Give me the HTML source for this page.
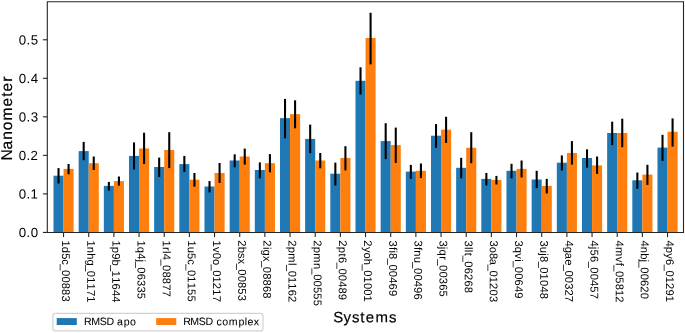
<!DOCTYPE html><html><head><meta charset="utf-8"><style>html,body{margin:0;padding:0;background:#fff;overflow:hidden;width:685px;height:333px}svg{display:block;position:absolute;left:0;top:0}text{font-family:"Liberation Sans",sans-serif;fill:#000;font-kerning:none;font-variant-ligatures:none;white-space:pre;text-rendering:geometricPrecision}#t{will-change:transform}</style></head><body>
<svg width="685" height="333" viewBox="0 0 685 333">
<rect x="0" y="0" width="685" height="333" fill="#fff"/>
<rect x="53.48" y="175.70" width="10.07" height="56.70" fill="#1f77b4"/>
<rect x="63.55" y="168.90" width="10.07" height="63.50" fill="#ff7f0e"/>
<rect x="78.65" y="151.10" width="10.07" height="81.30" fill="#1f77b4"/>
<rect x="88.72" y="163.20" width="10.07" height="69.20" fill="#ff7f0e"/>
<rect x="103.82" y="185.90" width="10.07" height="46.50" fill="#1f77b4"/>
<rect x="113.88" y="181.10" width="10.07" height="51.30" fill="#ff7f0e"/>
<rect x="128.98" y="155.90" width="10.07" height="76.50" fill="#1f77b4"/>
<rect x="139.05" y="148.40" width="10.07" height="84.00" fill="#ff7f0e"/>
<rect x="154.15" y="167.00" width="10.07" height="65.40" fill="#1f77b4"/>
<rect x="164.22" y="150.00" width="10.07" height="82.40" fill="#ff7f0e"/>
<rect x="179.32" y="164.10" width="10.07" height="68.30" fill="#1f77b4"/>
<rect x="189.38" y="179.70" width="10.07" height="52.70" fill="#ff7f0e"/>
<rect x="204.48" y="186.50" width="10.07" height="45.90" fill="#1f77b4"/>
<rect x="214.55" y="173.00" width="10.07" height="59.40" fill="#ff7f0e"/>
<rect x="229.65" y="160.50" width="10.07" height="71.90" fill="#1f77b4"/>
<rect x="239.72" y="156.50" width="10.07" height="75.90" fill="#ff7f0e"/>
<rect x="254.82" y="170.00" width="10.07" height="62.40" fill="#1f77b4"/>
<rect x="264.88" y="163.20" width="10.07" height="69.20" fill="#ff7f0e"/>
<rect x="279.98" y="118.10" width="10.07" height="114.30" fill="#1f77b4"/>
<rect x="290.05" y="114.10" width="10.07" height="118.30" fill="#ff7f0e"/>
<rect x="305.15" y="138.90" width="10.07" height="93.50" fill="#1f77b4"/>
<rect x="315.22" y="160.50" width="10.07" height="71.90" fill="#ff7f0e"/>
<rect x="330.32" y="173.70" width="10.07" height="58.70" fill="#1f77b4"/>
<rect x="340.38" y="157.90" width="10.07" height="74.50" fill="#ff7f0e"/>
<rect x="355.48" y="80.80" width="10.07" height="151.60" fill="#1f77b4"/>
<rect x="365.55" y="38.00" width="10.07" height="194.40" fill="#ff7f0e"/>
<rect x="380.65" y="141.10" width="10.07" height="91.30" fill="#1f77b4"/>
<rect x="390.72" y="145.10" width="10.07" height="87.30" fill="#ff7f0e"/>
<rect x="405.82" y="171.60" width="10.07" height="60.80" fill="#1f77b4"/>
<rect x="415.88" y="170.80" width="10.07" height="61.60" fill="#ff7f0e"/>
<rect x="430.98" y="135.70" width="10.07" height="96.70" fill="#1f77b4"/>
<rect x="441.05" y="129.70" width="10.07" height="102.70" fill="#ff7f0e"/>
<rect x="456.15" y="167.80" width="10.07" height="64.60" fill="#1f77b4"/>
<rect x="466.22" y="147.80" width="10.07" height="84.60" fill="#ff7f0e"/>
<rect x="481.32" y="178.90" width="10.07" height="53.50" fill="#1f77b4"/>
<rect x="491.38" y="180.00" width="10.07" height="52.40" fill="#ff7f0e"/>
<rect x="506.48" y="170.80" width="10.07" height="61.60" fill="#1f77b4"/>
<rect x="516.55" y="168.90" width="10.07" height="63.50" fill="#ff7f0e"/>
<rect x="531.65" y="179.50" width="10.07" height="52.90" fill="#1f77b4"/>
<rect x="541.72" y="185.90" width="10.07" height="46.50" fill="#ff7f0e"/>
<rect x="556.82" y="162.70" width="10.07" height="69.70" fill="#1f77b4"/>
<rect x="566.88" y="153.00" width="10.07" height="79.40" fill="#ff7f0e"/>
<rect x="581.98" y="158.00" width="10.07" height="74.40" fill="#1f77b4"/>
<rect x="592.05" y="165.40" width="10.07" height="67.00" fill="#ff7f0e"/>
<rect x="607.15" y="133.00" width="10.07" height="99.40" fill="#1f77b4"/>
<rect x="617.22" y="133.00" width="10.07" height="99.40" fill="#ff7f0e"/>
<rect x="632.32" y="180.30" width="10.07" height="52.10" fill="#1f77b4"/>
<rect x="642.38" y="174.60" width="10.07" height="57.80" fill="#ff7f0e"/>
<rect x="657.48" y="147.60" width="10.07" height="84.80" fill="#1f77b4"/>
<rect x="667.55" y="131.80" width="10.07" height="100.60" fill="#ff7f0e"/>
<line x1="58.52" y1="168.10" x2="58.52" y2="183.50" stroke="#000" stroke-width="2.08"/>
<line x1="68.58" y1="164.00" x2="68.58" y2="174.30" stroke="#000" stroke-width="2.08"/>
<line x1="83.68" y1="141.90" x2="83.68" y2="160.20" stroke="#000" stroke-width="2.08"/>
<line x1="93.75" y1="156.50" x2="93.75" y2="170.00" stroke="#000" stroke-width="2.08"/>
<line x1="108.85" y1="181.90" x2="108.85" y2="190.50" stroke="#000" stroke-width="2.08"/>
<line x1="118.92" y1="176.50" x2="118.92" y2="185.60" stroke="#000" stroke-width="2.08"/>
<line x1="134.02" y1="142.40" x2="134.02" y2="169.40" stroke="#000" stroke-width="2.08"/>
<line x1="144.08" y1="132.70" x2="144.08" y2="164.00" stroke="#000" stroke-width="2.08"/>
<line x1="159.18" y1="157.60" x2="159.18" y2="177.00" stroke="#000" stroke-width="2.08"/>
<line x1="169.25" y1="132.20" x2="169.25" y2="168.10" stroke="#000" stroke-width="2.08"/>
<line x1="184.35" y1="155.90" x2="184.35" y2="172.10" stroke="#000" stroke-width="2.08"/>
<line x1="194.42" y1="173.00" x2="194.42" y2="186.70" stroke="#000" stroke-width="2.08"/>
<line x1="209.52" y1="181.10" x2="209.52" y2="192.40" stroke="#000" stroke-width="2.08"/>
<line x1="219.58" y1="163.00" x2="219.58" y2="182.90" stroke="#000" stroke-width="2.08"/>
<line x1="234.68" y1="154.30" x2="234.68" y2="167.30" stroke="#000" stroke-width="2.08"/>
<line x1="244.75" y1="148.60" x2="244.75" y2="164.60" stroke="#000" stroke-width="2.08"/>
<line x1="259.85" y1="162.40" x2="259.85" y2="178.30" stroke="#000" stroke-width="2.08"/>
<line x1="269.92" y1="154.10" x2="269.92" y2="172.40" stroke="#000" stroke-width="2.08"/>
<line x1="285.02" y1="98.90" x2="285.02" y2="138.30" stroke="#000" stroke-width="2.08"/>
<line x1="295.08" y1="100.30" x2="295.08" y2="128.30" stroke="#000" stroke-width="2.08"/>
<line x1="310.18" y1="124.60" x2="310.18" y2="153.20" stroke="#000" stroke-width="2.08"/>
<line x1="320.25" y1="153.00" x2="320.25" y2="168.30" stroke="#000" stroke-width="2.08"/>
<line x1="335.35" y1="162.60" x2="335.35" y2="185.50" stroke="#000" stroke-width="2.08"/>
<line x1="345.42" y1="146.20" x2="345.42" y2="170.40" stroke="#000" stroke-width="2.08"/>
<line x1="360.52" y1="67.30" x2="360.52" y2="94.50" stroke="#000" stroke-width="2.08"/>
<line x1="370.58" y1="12.80" x2="370.58" y2="64.40" stroke="#000" stroke-width="2.08"/>
<line x1="385.68" y1="123.20" x2="385.68" y2="159.10" stroke="#000" stroke-width="2.08"/>
<line x1="395.75" y1="127.60" x2="395.75" y2="162.90" stroke="#000" stroke-width="2.08"/>
<line x1="410.85" y1="164.90" x2="410.85" y2="178.90" stroke="#000" stroke-width="2.08"/>
<line x1="420.92" y1="163.50" x2="420.92" y2="178.10" stroke="#000" stroke-width="2.08"/>
<line x1="436.02" y1="124.10" x2="436.02" y2="147.80" stroke="#000" stroke-width="2.08"/>
<line x1="446.08" y1="116.80" x2="446.08" y2="142.90" stroke="#000" stroke-width="2.08"/>
<line x1="461.18" y1="157.80" x2="461.18" y2="178.30" stroke="#000" stroke-width="2.08"/>
<line x1="471.25" y1="132.20" x2="471.25" y2="163.20" stroke="#000" stroke-width="2.08"/>
<line x1="486.35" y1="173.00" x2="486.35" y2="185.40" stroke="#000" stroke-width="2.08"/>
<line x1="496.42" y1="175.90" x2="496.42" y2="184.50" stroke="#000" stroke-width="2.08"/>
<line x1="511.52" y1="163.80" x2="511.52" y2="178.30" stroke="#000" stroke-width="2.08"/>
<line x1="521.58" y1="160.50" x2="521.58" y2="177.50" stroke="#000" stroke-width="2.08"/>
<line x1="536.68" y1="170.80" x2="536.68" y2="188.10" stroke="#000" stroke-width="2.08"/>
<line x1="546.75" y1="178.90" x2="546.75" y2="193.50" stroke="#000" stroke-width="2.08"/>
<line x1="561.85" y1="155.40" x2="561.85" y2="170.50" stroke="#000" stroke-width="2.08"/>
<line x1="571.92" y1="141.10" x2="571.92" y2="164.60" stroke="#000" stroke-width="2.08"/>
<line x1="587.02" y1="149.30" x2="587.02" y2="167.70" stroke="#000" stroke-width="2.08"/>
<line x1="597.08" y1="156.50" x2="597.08" y2="173.90" stroke="#000" stroke-width="2.08"/>
<line x1="612.18" y1="121.70" x2="612.18" y2="145.10" stroke="#000" stroke-width="2.08"/>
<line x1="622.25" y1="118.70" x2="622.25" y2="147.20" stroke="#000" stroke-width="2.08"/>
<line x1="637.35" y1="172.50" x2="637.35" y2="188.80" stroke="#000" stroke-width="2.08"/>
<line x1="647.42" y1="164.80" x2="647.42" y2="184.90" stroke="#000" stroke-width="2.08"/>
<line x1="662.52" y1="134.80" x2="662.52" y2="160.80" stroke="#000" stroke-width="2.08"/>
<line x1="672.58" y1="118.40" x2="672.58" y2="146.60" stroke="#000" stroke-width="2.08"/>
<path d="M47.3,1.75 H683.5 V232.5 H47.3 Z" fill="none" stroke="#262626" stroke-width="1.11"/>
<line x1="42.9" y1="232.43" x2="47.3" y2="232.43" stroke="#262626" stroke-width="1.11"/>
<line x1="42.9" y1="193.90" x2="47.3" y2="193.90" stroke="#262626" stroke-width="1.11"/>
<line x1="42.9" y1="155.37" x2="47.3" y2="155.37" stroke="#262626" stroke-width="1.11"/>
<line x1="42.9" y1="116.84" x2="47.3" y2="116.84" stroke="#262626" stroke-width="1.11"/>
<line x1="42.9" y1="78.31" x2="47.3" y2="78.31" stroke="#262626" stroke-width="1.11"/>
<line x1="42.9" y1="39.78" x2="47.3" y2="39.78" stroke="#262626" stroke-width="1.11"/>
<line x1="63.55" y1="232.40" x2="63.55" y2="237.10" stroke="#262626" stroke-width="1.11"/>
<line x1="88.72" y1="232.40" x2="88.72" y2="237.10" stroke="#262626" stroke-width="1.11"/>
<line x1="113.88" y1="232.40" x2="113.88" y2="237.10" stroke="#262626" stroke-width="1.11"/>
<line x1="139.05" y1="232.40" x2="139.05" y2="237.10" stroke="#262626" stroke-width="1.11"/>
<line x1="164.22" y1="232.40" x2="164.22" y2="237.10" stroke="#262626" stroke-width="1.11"/>
<line x1="189.38" y1="232.40" x2="189.38" y2="237.10" stroke="#262626" stroke-width="1.11"/>
<line x1="214.55" y1="232.40" x2="214.55" y2="237.10" stroke="#262626" stroke-width="1.11"/>
<line x1="239.72" y1="232.40" x2="239.72" y2="237.10" stroke="#262626" stroke-width="1.11"/>
<line x1="264.88" y1="232.40" x2="264.88" y2="237.10" stroke="#262626" stroke-width="1.11"/>
<line x1="290.05" y1="232.40" x2="290.05" y2="237.10" stroke="#262626" stroke-width="1.11"/>
<line x1="315.22" y1="232.40" x2="315.22" y2="237.10" stroke="#262626" stroke-width="1.11"/>
<line x1="340.38" y1="232.40" x2="340.38" y2="237.10" stroke="#262626" stroke-width="1.11"/>
<line x1="365.55" y1="232.40" x2="365.55" y2="237.10" stroke="#262626" stroke-width="1.11"/>
<line x1="390.72" y1="232.40" x2="390.72" y2="237.10" stroke="#262626" stroke-width="1.11"/>
<line x1="415.88" y1="232.40" x2="415.88" y2="237.10" stroke="#262626" stroke-width="1.11"/>
<line x1="441.05" y1="232.40" x2="441.05" y2="237.10" stroke="#262626" stroke-width="1.11"/>
<line x1="466.22" y1="232.40" x2="466.22" y2="237.10" stroke="#262626" stroke-width="1.11"/>
<line x1="491.38" y1="232.40" x2="491.38" y2="237.10" stroke="#262626" stroke-width="1.11"/>
<line x1="516.55" y1="232.40" x2="516.55" y2="237.10" stroke="#262626" stroke-width="1.11"/>
<line x1="541.72" y1="232.40" x2="541.72" y2="237.10" stroke="#262626" stroke-width="1.11"/>
<line x1="566.88" y1="232.40" x2="566.88" y2="237.10" stroke="#262626" stroke-width="1.11"/>
<line x1="592.05" y1="232.40" x2="592.05" y2="237.10" stroke="#262626" stroke-width="1.11"/>
<line x1="617.22" y1="232.40" x2="617.22" y2="237.10" stroke="#262626" stroke-width="1.11"/>
<line x1="642.38" y1="232.40" x2="642.38" y2="237.10" stroke="#262626" stroke-width="1.11"/>
<line x1="667.55" y1="232.40" x2="667.55" y2="237.10" stroke="#262626" stroke-width="1.11"/>
<rect x="52.9" y="313.4" width="210.1" height="17.5" rx="2.5" ry="2.5" fill="#fff" stroke="#d2d2d2" stroke-width="1.2"/>
<rect x="56.7" y="318.1" width="20.1" height="6.9" fill="#1f77b4"/>
<rect x="156.2" y="318.1" width="20.1" height="6.9" fill="#ff7f0e"/>
</svg>
<svg id="t" width="685" height="333" viewBox="0 0 685 333">
<text transform="translate(18.50,237.08) rotate(0.05)" font-size="13.3" x="0.27 8.09 12.20" y="0">0.0</text>
<text transform="translate(18.50,198.55) rotate(0.05)" font-size="13.3" x="0.27 8.09 12.13" y="0">0.1</text>
<text transform="translate(18.50,160.02) rotate(0.05)" font-size="13.3" x="0.27 8.09 12.04" y="0">0.2</text>
<text transform="translate(18.50,121.49) rotate(0.05)" font-size="13.3" x="0.27 8.09 12.22" y="0">0.3</text>
<text transform="translate(18.50,82.96) rotate(0.05)" font-size="13.3" x="0.27 8.09 12.20" y="0">0.4</text>
<text transform="translate(18.50,44.43) rotate(0.05)" font-size="13.3" x="0.27 8.09 12.15" y="0">0.5</text>
<text transform="translate(62.05,240.40) rotate(90.05)" font-size="11.2" x="0.00 6.37 12.74 18.90 23.98 29.63 36.00 42.36 48.72 55.10" y="0">1d5c_00883</text>
<text transform="translate(87.22,240.40) rotate(90.05)" font-size="11.2" x="0.00 6.44 12.76 19.05 24.79 30.45 36.75 43.11 49.52 55.84" y="0">1nhg_01171</text>
<text transform="translate(112.38,240.40) rotate(90.05)" font-size="11.2" x="0.00 6.48 12.74 19.19 24.83 30.42 36.78 43.21 49.57 55.93" y="0">1p9b_11644</text>
<text transform="translate(137.55,240.40) rotate(90.05)" font-size="11.2" x="0.00 6.37 12.78 19.17 21.26 26.91 33.28 39.66 46.02 52.33" y="0">1q4j_06335</text>
<text transform="translate(162.72,240.40) rotate(90.05)" font-size="11.2" x="0.00 6.73 10.62 13.32 19.02 24.68 31.04 37.40 43.75 50.11" y="0">1rl4_08877</text>
<text transform="translate(187.88,240.40) rotate(90.05)" font-size="11.2" x="0.00 6.40 12.73 18.89 23.97 29.62 35.92 42.29 48.67 55.04" y="0">1u5c_01155</text>
<text transform="translate(213.05,240.40) rotate(90.05)" font-size="11.2" x="0.00 6.52 12.34 18.59 24.17 29.82 36.12 42.42 48.85 55.25" y="0">1v0o_01217</text>
<text transform="translate(238.22,240.40) rotate(90.05)" font-size="11.2" x="-0.07 6.48 12.59 18.06 23.25 28.90 35.26 41.63 47.95 54.37" y="0">2bsx_00853</text>
<text transform="translate(263.38,240.40) rotate(90.05)" font-size="11.2" x="-0.07 6.51 9.15 15.62 20.81 26.47 32.83 39.20 45.56 51.92" y="0">2igx_08868</text>
<text transform="translate(288.55,240.40) rotate(90.05)" font-size="11.2" x="-0.07 6.48 12.94 22.60 24.64 30.29 36.59 42.96 49.38 55.61" y="0">2pml_01162</text>
<text transform="translate(313.72,240.40) rotate(90.05)" font-size="11.2" x="-0.07 6.48 12.94 22.53 28.20 33.85 40.22 46.54 52.90 59.26" y="0">2pmn_00555</text>
<text transform="translate(338.88,240.40) rotate(90.05)" font-size="11.2" x="-0.07 6.48 13.09 16.69 22.40 28.06 34.42 40.78 47.14 53.48" y="0">2pt6_00489</text>
<text transform="translate(364.05,240.40) rotate(90.05)" font-size="11.2" x="-0.07 6.52 12.23 18.46 24.14 29.80 36.10 42.53 48.89 55.19" y="0">2yoh_01001</text>
<text transform="translate(389.22,240.40) rotate(90.05)" font-size="11.2" x="0.08 6.69 10.03 12.73 18.43 24.09 30.45 36.81 43.17 49.51" y="0">3fi8_00469</text>
<text transform="translate(414.38,240.40) rotate(90.05)" font-size="11.2" x="0.08 6.69 9.96 16.25 21.97 27.62 33.99 40.35 46.68 53.07" y="0">3fnu_00496</text>
<text transform="translate(439.55,240.40) rotate(90.05)" font-size="11.2" x="0.08 6.46 9.14 15.85 19.01 24.66 31.03 37.40 43.75 50.08" y="0">3jqr_00365</text>
<text transform="translate(464.72,240.40) rotate(90.05)" font-size="11.2" x="0.08 6.51 9.29 12.29 15.25 20.90 27.26 33.50 39.99 46.35" y="0">3llt_06268</text>
<text transform="translate(489.88,240.40) rotate(90.05)" font-size="11.2" x="0.08 6.31 12.54 18.40 24.38 30.03 36.33 42.63 49.12 55.50" y="0">3o8a_01203</text>
<text transform="translate(515.05,240.40) rotate(90.05)" font-size="11.2" x="0.08 6.37 12.87 18.78 20.81 26.47 32.83 39.19 45.56 51.89" y="0">3qvi_00649</text>
<text transform="translate(540.22,240.40) rotate(90.05)" font-size="11.2" x="0.08 6.40 12.80 15.54 21.25 26.91 33.20 39.63 45.99 52.35" y="0">3uj8_01048</text>
<text transform="translate(565.38,240.40) rotate(90.05)" font-size="11.2" x="0.07 6.37 12.27 18.82 24.40 30.05 36.42 42.79 49.01 55.48" y="0">4gae_00327</text>
<text transform="translate(590.55,240.40) rotate(90.05)" font-size="11.2" x="0.07 6.46 9.17 15.57 21.27 26.93 33.29 39.66 45.98 52.36" y="0">4j56_00457</text>
<text transform="translate(615.72,240.40) rotate(90.05)" font-size="11.2" x="0.07 6.59 16.26 22.35 24.95 30.61 36.93 43.33 49.63 55.92" y="0">4mvf_05812</text>
<text transform="translate(640.88,240.40) rotate(90.05)" font-size="11.2" x="0.07 6.44 12.81 19.15 21.23 26.89 33.25 39.61 45.85 52.34" y="0">4nbj_00620</text>
<text transform="translate(666.05,240.40) rotate(90.05)" font-size="11.2" x="0.07 6.48 12.87 18.69 24.40 30.05 36.35 42.65 49.11 55.44" y="0">4py6_01291</text>
<text transform="translate(12.00,160.50) rotate(-89.95)" font-size="15.6" x="-0.03 10.92 20.86 30.17 39.95 54.01 63.67 69.12 78.83" y="0" stroke="#000" stroke-width="0.2">Nanometer</text>
<text transform="translate(333.50,322.20) rotate(0.05)" font-size="15.0" x="-0.21 10.07 18.43 26.74 32.20 41.94 55.60" y="0" stroke="#000" stroke-width="0.2">Systems</text>
<text transform="translate(84.20,325.10) rotate(0.05)" font-size="10.6" x="-0.16 6.96 15.46 22.22 29.92 32.90 39.64 45.88" y="0" stroke="#000" stroke-width="0.06">RMSD apo</text>
<text transform="translate(183.40,325.10) rotate(0.05)" font-size="10.6" x="-0.16 6.96 15.46 22.22 29.92 33.14 38.83 45.39 55.02 61.34 64.10 70.27" y="0" stroke="#000" stroke-width="0.06">RMSD complex</text>
</svg></body></html>
